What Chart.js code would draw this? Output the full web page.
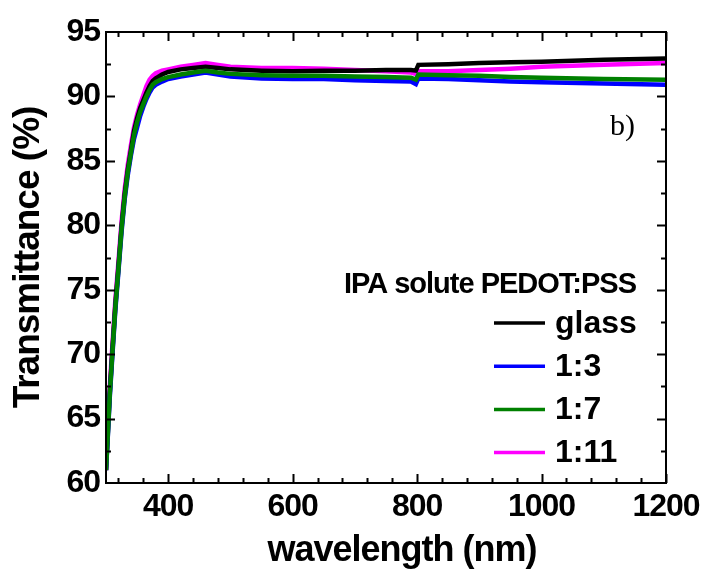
<!DOCTYPE html>
<html lang="en">
<head>
  <meta charset="UTF-8">
  <title>Transmittance vs wavelength</title>
  <script src="https://cdn.jsdelivr.net/npm/chart.js"></script>
  <style>
    * {
      margin: 0;
      padding: 0;
      box-sizing: border-box;
    }

    body {
      background-color: #fff;
      width: 712px;
      height: 572px;
      overflow: hidden;
    }
  </style>
</head>
<body>
  <canvas id="transChart" width="712" height="572"></canvas>

  <script>
    // wavelength (nm) sampling, shared by all series
    const wavelengths = [300, 303, 306, 310, 315, 320, 325, 330, 335, 340, 345, 350, 355, 360, 365, 370, 375, 380, 390,
      400, 420, 440, 460, 480, 500, 550, 600, 650, 700, 750, 790, 798, 802, 850, 900, 950, 1000, 1100, 1200];

    const glass = [61.0, 64.0, 67.0, 70.1, 73.8, 76.8, 79.9, 82.4, 84.3, 85.8, 87.3, 88.3, 89.1, 89.7, 90.3, 90.8, 91.2, 91.4, 91.7,
      91.9, 92.1, 92.2, 92.3, 92.2, 92.1, 92.0, 91.95, 92.0, 92.0, 92.05, 92.05, 92.0, 92.45, 92.5, 92.6, 92.65, 92.7, 92.85, 92.95];

    const ratio13 = [61.0, 63.7, 66.6, 69.7, 73.4, 76.4, 79.5, 82.0, 83.9, 85.4, 86.7, 87.6, 88.5, 89.2, 89.8, 90.3, 90.7, 90.9, 91.15,
      91.35, 91.55, 91.7, 91.85, 91.7, 91.55, 91.4, 91.35, 91.35, 91.25, 91.2, 91.15, 90.95, 91.4, 91.35, 91.25, 91.15, 91.1, 91.0, 90.9];

    const ratio17 = [61.0, 63.8, 66.8, 69.9, 73.6, 76.6, 79.7, 82.2, 84.1, 85.6, 87.0, 88.0, 88.8, 89.4, 90.0, 90.5, 90.9, 91.1, 91.35,
      91.5, 91.7, 91.85, 92.0, 91.85, 91.75, 91.65, 91.6, 91.6, 91.55, 91.5, 91.45, 91.3, 91.7, 91.65, 91.6, 91.5, 91.45, 91.35, 91.3];

    const ratio111 = [61.0, 64.3, 67.4, 70.5, 74.2, 77.2, 80.3, 82.8, 84.7, 86.2, 87.6, 88.6, 89.4, 90.1, 90.8, 91.3, 91.6, 91.8, 92.0,
      92.1, 92.3, 92.45, 92.6, 92.45, 92.3, 92.2, 92.2, 92.15, 92.05, 91.95, 91.85, 91.75, 91.95, 91.95, 92.05, 92.15, 92.3, 92.45, 92.6];

    const seriesLabels = ['glass', '1:3', '1:7', '1:11'];
    const seriesColors = ['#000000', '#0000ff', '#008000', '#ff00ff'];
    const seriesValues = [glass, ratio13, ratio17, ratio111];
    const drawOrder = [3, 2, 1, 4];

    const xTicks = [400, 600, 800, 1000, 1200];
    const yTicks = [60, 65, 70, 75, 80, 85, 90, 95];
    const xTitle = 'wavelength (nm)';
    const yTitle = 'Transmittance (%)';
    const legendTitle = 'IPA solute PEDOT:PSS';
    const panelTag = 'b)';

    const sans = "'Liberation Sans', Arial, sans-serif";

    const toPoints = (vals) => wavelengths.map((w, i) => ({ x: w, y: vals[i] }));

    // the original text is set tight, so squeeze letters a little
    const tightText = {
      id: 'tightText',
      beforeDraw(chart) {
        chart.ctx.letterSpacing = '-1px';
      }
    };

    // frame + inward ticks on all four sides
    const frameTicks = {
      id: 'frameTicks',
      afterDatasetsDraw(chart) {
        const { ctx, chartArea: a, scales: { x, y } } = chart;
        ctx.save();
        ctx.strokeStyle = '#000';
        ctx.lineWidth = 2;
        ctx.strokeRect(a.left, a.top, a.right - a.left, a.bottom - a.top);
        ctx.beginPath();
        for (let v = 320; v <= 1200; v += 40) {
          const px = Math.round(x.getPixelForValue(v)) + 0.5;
          const len = xTicks.includes(v) ? 9 : 5;
          ctx.moveTo(px, a.bottom); ctx.lineTo(px, a.bottom - len);
          ctx.moveTo(px, a.top); ctx.lineTo(px, a.top + len);
        }
        for (let v = 62.5; v < 95; v += 2.5) {
          const py = Math.round(y.getPixelForValue(v)) + 0.5;
          const len = yTicks.includes(v) ? 9 : 5;
          ctx.moveTo(a.left, py); ctx.lineTo(a.left + len, py);
          ctx.moveTo(a.right, py); ctx.lineTo(a.right - len, py);
        }
        ctx.stroke();
        ctx.restore();
      }
    };

    // legend inside plot, panel tag, x title (sits a bit right of centre in the original)
    const insideLegend = {
      id: 'insideLegend',
      afterDraw(chart) {
        const { ctx, chartArea: a } = chart;
        ctx.save();
        ctx.fillStyle = '#000';
        ctx.letterSpacing = '-1px';
        ctx.font = 'bold 29px ' + sans;
        ctx.textAlign = 'right';
        ctx.textBaseline = 'alphabetic';
        ctx.fillText(legendTitle, a.right - 30, 293);

        ctx.font = 'bold 36px ' + sans;
        ctx.textAlign = 'center';
        ctx.fillText(xTitle, (a.left + a.right) / 2 + 16, 561);

        ctx.letterSpacing = '0px';
        ctx.textAlign = 'left';
        ctx.textBaseline = 'middle';
        ctx.font = 'bold 32px ' + sans;
        seriesLabels.forEach((lab, i) => {
          const yy = 323 + i * 43.2;
          ctx.strokeStyle = seriesColors[i];
          ctx.lineWidth = 3.5;
          ctx.beginPath();
          ctx.moveTo(a.right - 172, yy);
          ctx.lineTo(a.right - 121, yy);
          ctx.stroke();
          ctx.fillText(lab, a.right - 111, yy + 1);
        });

        ctx.font = "30px 'Liberation Serif', 'Times New Roman', serif";
        ctx.textBaseline = 'alphabetic';
        ctx.fillText(panelTag, a.right - 56, 135);
        ctx.restore();
        ctx.letterSpacing = '0px';
      }
    };

    const chart = new Chart(document.getElementById('transChart').getContext('2d'), {
      type: 'line',
      data: {
        datasets: seriesLabels.map((lab, i) => ({
          label: lab,
          data: toPoints(seriesValues[i]),
          borderColor: seriesColors[i],
          backgroundColor: seriesColors[i],
          borderWidth: 4.5,
          pointRadius: 0,
          tension: 0,
          fill: false,
          order: drawOrder[i]
        }))
      },
      options: {
        responsive: false,
        animation: false,
        devicePixelRatio: 1,
        layout: {
          padding: { top: 32, right: 46, left: 0, bottom: 0 }
        },
        plugins: {
          legend: { display: false },
          tooltip: { enabled: false }
        },
        scales: {
          x: {
            type: 'linear',
            min: 300,
            max: 1200,
            afterBuildTicks: (s) => { s.ticks = xTicks.map(v => ({ value: v })); },
            afterFit: (s) => { s.height = 89; },
            grid: { display: false, drawTicks: false },
            border: { display: false },
            ticks: {
              color: '#000',
              font: { family: sans, size: 32, weight: 'bold' },
              padding: 5,
              maxRotation: 0,
              autoSkip: false,
              callback: (v) => String(v)
            }
          },
          y: {
            min: 60,
            max: 95,
            afterBuildTicks: (s) => { s.ticks = yTicks.map(v => ({ value: v })); },
            afterFit: (s) => { s.width = 106; },
            grid: { display: false, drawTicks: false },
            border: { display: false },
            ticks: {
              color: '#000',
              font: { family: sans, size: 32, weight: 'bold' },
              padding: 6,
              callback: (v) => String(v)
            },
            title: {
              display: true,
              text: yTitle,
              color: '#000',
              font: { family: sans, size: 37, weight: 'bold' },
              padding: { top: 7, bottom: 0 }
            }
          }
        }
      },
      plugins: [tightText, frameTicks, insideLegend]
    });
  </script>
</body>
</html>
